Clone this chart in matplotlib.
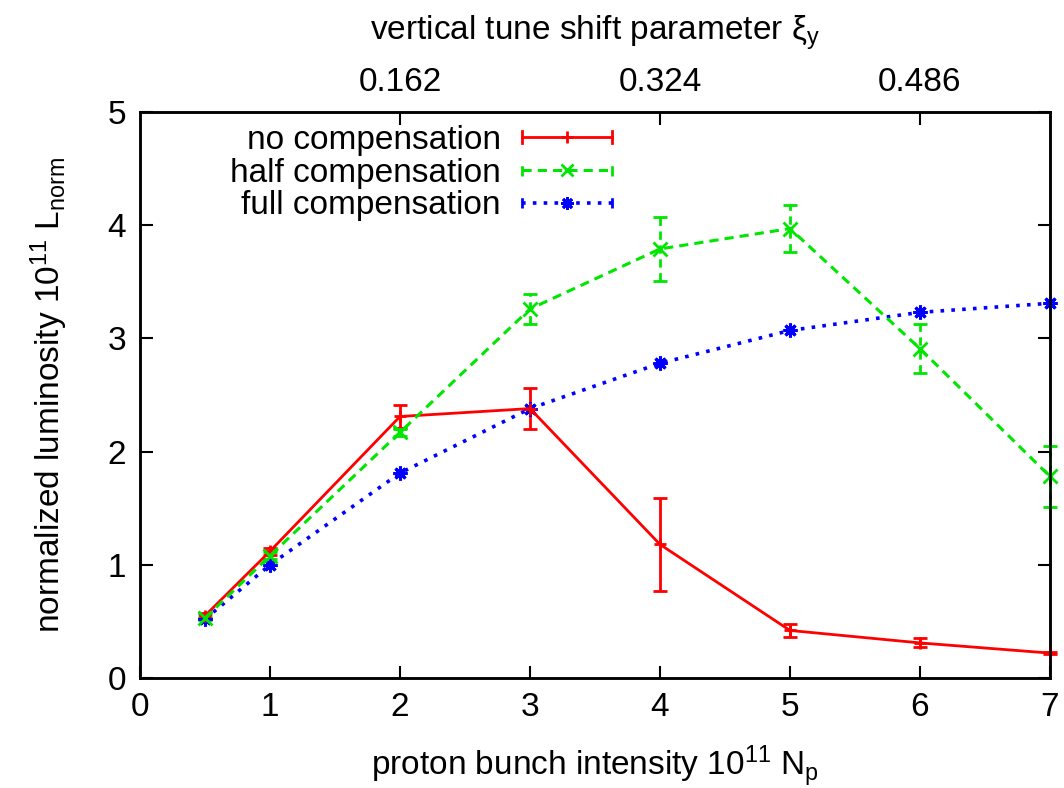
import numpy as np
import matplotlib.pyplot as plt
from matplotlib.lines import Line2D
from matplotlib.legend_handler import HandlerLine2D

plt.rcParams['font.family'] = ['Liberation Sans', 'DejaVu Sans']
plt.rcParams['mathtext.fontset'] = 'custom'
plt.rcParams['mathtext.rm'] = 'Liberation Sans'
plt.rcParams['mathtext.it'] = 'Liberation Sans:italic'

N_p = [0.5, 1, 2, 3, 4, 5, 6, 7]

L_none = [0.55, 1.12, 2.31, 2.38, 1.18, 0.42, 0.31, 0.22]
err_none = [0.02, 0.03, 0.10, 0.18, 0.41, 0.06, 0.04, 0.01]

L_half = [0.53, 1.08, 2.17, 3.26, 3.79, 3.97, 2.91, 1.78]
err_half = [0.02, 0.03, 0.03, 0.13, 0.28, 0.21, 0.22, 0.27]

L_full = [0.52, 1.00, 1.81, 2.38, 2.78, 3.07, 3.23, 3.31]

xi_pos = [2, 4, 6]
xi_labels = ['0.162', '0.324', '0.486']

FS = 24


class CapHandler(HandlerLine2D):
    # gnuplot-style key: line with small caps at both ends
    def create_artists(self, legend, orig, xd, yd, w, h, fs, trans):
        arts = super().create_artists(legend, orig, xd, yd, w, h, fs, trans)
        y0 = h / 2 - yd
        for x in (-xd, -xd + w):
            cap = Line2D([x, x], [y0 - 0.25 * h, y0 + 0.25 * h],
                         color=orig.get_color(), lw=2, ls=orig.get_linestyle())
            cap.set_transform(trans)
            arts.append(cap)
        return arts


fig = plt.figure(figsize=(10.64, 7.88), dpi=100)
ax = fig.add_axes([0.1316, 0.1396, 0.8552, 0.7183])

ax.errorbar(N_p, L_none, yerr=err_none, color='#ff0000', lw=2, ls='-',
            marker='+', ms=9, mew=2, capsize=5, capthick=2, elinewidth=2,
            clip_on=False, zorder=3)
eb = ax.errorbar(N_p, L_half, yerr=err_half, color='#00e600', lw=2.2, ls=(0, (3, 2)),
                 marker='x', ms=10, mew=2, capsize=5, capthick=2, elinewidth=2,
                 clip_on=False, zorder=3)
eb[2][0].set_linestyle((0, (3, 2)))
ax.plot(N_p, L_full, color='#0000ff', lw=2.6, ls=(0, (1, 2)),
        marker=(8, 2, 0), ms=10, mew=2.2, clip_on=False, zorder=3)

ax.set_xlim(0, 7)
ax.set_ylim(0, 5)
ax.set_xticks(range(0, 8))
ax.set_yticks(range(0, 6))
ax.tick_params(direction='in', length=9, width=1.5, labelsize=FS, pad=10,
               right=True, top=False)
for s in ax.spines.values():
    s.set_linewidth(1.8)

ax.set_xlabel('proton bunch intensity 10$^{11}$ N$_\\mathrm{p}$', fontsize=FS, labelpad=15)
ax.set_ylabel('normalized luminosity 10$^{11}$ L$_\\mathrm{norm}$', fontsize=FS, labelpad=27)

ax2 = ax.twiny()
ax2.set_xlim(ax.get_xlim())
ax2.set_xticks(xi_pos)
ax2.set_xticklabels(xi_labels)
ax2.tick_params(direction='in', length=9, width=1.5, labelsize=FS, pad=10)
ax2.set_xlabel('vertical tune shift parameter ξ$_\\mathrm{y}$', fontsize=FS, labelpad=20)
for s in ax2.spines.values():
    s.set_linewidth(1.8)

handles = [
    Line2D([], [], color='#ff0000', lw=2, ls='-', marker='+', ms=9, mew=2),
    Line2D([], [], color='#00e600', lw=2.2, ls=(0, (3, 2)), marker='x', ms=9, mew=2),
    Line2D([], [], color='#0000ff', lw=2.6, ls=(0, (1, 2)), marker=(8, 2, 0), ms=9, mew=2),
]
labels = ['no compensation', 'half compensation', 'full compensation']
leg = ax.legend(handles, labels, loc='upper left', bbox_to_anchor=(0.066, 1.03),
                frameon=False, markerfirst=False, fontsize=FS, handlelength=2.7,
                labelspacing=0.05, handletextpad=0.65, alignment='right',
                handler_map={Line2D: CapHandler()})
for t in leg.get_texts():
    t.set_ha('right')

fig.savefig('out.png', dpi=100)
